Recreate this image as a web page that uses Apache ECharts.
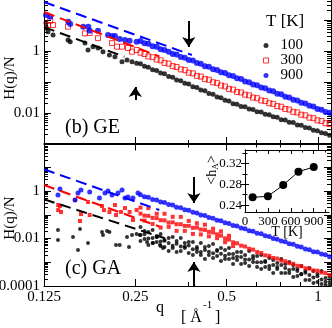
<!DOCTYPE html>
<html>
<head>
<meta charset="utf-8">
<script src="https://cdn.jsdelivr.net/npm/echarts@6/dist/echarts.min.js"></script>
<style>
  html, body { margin: 0; padding: 0; background: #fff; }
  #container { width: 332px; height: 328px; }
</style>
</head>
<body>
<div id="container"></div>
<script>
var FONT = '"Liberation Serif", "DejaVu Serif", serif';

// q axis (shared by both panels), log base 2
var qMin = 0.125, qMax = 1.104;
var xLabels = [0.125, 0.25, 0.5, 1];
var xMinor = [0.375, 0.625, 0.75, 0.875];

// H(q)/N axes
var yLabelsGE = [0.01, 1];
var yMajorGE = [0.001, 0.01, 0.1, 1, 10];
var yMinorGE = [0.002, 0.003, 0.004, 0.005, 0.006, 0.007, 0.008, 0.009,
  0.02, 0.03, 0.04, 0.05, 0.06, 0.07, 0.08, 0.09,
  0.2, 0.3, 0.4, 0.5, 0.6, 0.7, 0.8, 0.9,
  2, 3, 4, 5, 6, 7, 8, 9, 20, 30, 40];
var yLabelsGA = [0.0001, 0.01, 1];
var yMajorGA = [0.0001, 0.001, 0.01, 0.1, 1, 10, 100];
var yMinorGA = [0.0002, 0.0003, 0.0004, 0.0005, 0.0006, 0.0007, 0.0008, 0.0009,
  0.002, 0.003, 0.004, 0.005, 0.006, 0.007, 0.008, 0.009,
  0.02, 0.03, 0.04, 0.05, 0.06, 0.07, 0.08, 0.09,
  0.2, 0.3, 0.4, 0.5, 0.6, 0.7, 0.8, 0.9,
  2, 3, 4, 5, 6, 7, 8, 9, 20, 30, 40, 50, 60, 70, 80, 90];

// dense q grid (large q), shared by all series
var qDense = [0.26, 0.268, 0.276, 0.285, 0.294, 0.303, 0.312, 0.322, 0.332, 0.342,
  0.353, 0.364, 0.375, 0.387, 0.399, 0.411, 0.424, 0.437, 0.451, 0.465,
  0.479, 0.494, 0.509, 0.525, 0.541, 0.558, 0.575, 0.593, 0.611, 0.630,
  0.650, 0.670, 0.691, 0.712, 0.734, 0.757, 0.780, 0.804, 0.829, 0.855,
  0.881, 0.909, 0.937, 0.966, 0.996, 1.027, 1.059, 1.092];

// (b) GE : sparse small-q points
var qBlackGE0 = [0.1269, 0.1274, 0.1289, 0.1339, 0.150, 0.1525, 0.1706, 0.1746, 0.1813, 0.1883, 0.1956, 0.2054, 0.2142, 0.226, 0.2347, 0.2438, 0.2525];
var hBlackGE0 = [8.0, 5.5, 4.2, 3.3, 2.26, 2.0, 1.8, 1.08, 1.38, 1.25, 0.95, 0.74, 0.655, 0.45, 0.51, 0.45, 0.40];
var qRedGE0 = [0.1289, 0.131, 0.1339, 0.150, 0.1706, 0.1768, 0.1883, 0.2095, 0.2175, 0.226, 0.2365, 0.2438, 0.2525];
var hRedGE0 = [6.9, 9.5, 6.9, 6.1, 3.7, 3.8, 2.6, 1.8, 1.38, 1.38, 1.25, 0.95, 1.08];
var qBlueGE0 = [0.127, 0.131, 0.1503, 0.1525, 0.1684, 0.175, 0.1768, 0.1883, 0.2032, 0.2095, 0.2142, 0.2221, 0.2311, 0.2394, 0.2525];
var hBlueGE0 = [14.5, 12.8, 8.8, 7.4, 6.1, 6.1, 4.5, 4.5, 3.3, 3.05, 3.05, 2.45, 2.25, 2.15, 2.0];

// (b) GE : dense band, one value per qDense
var hBlackGE = [0.39, 0.32, 0.30, 0.25, 0.235, 0.195, 0.183, 0.150, 0.142, 0.117,
  0.110, 0.091, 0.086, 0.070, 0.067, 0.055, 0.052, 0.0425, 0.040, 0.033,
  0.0312, 0.0257, 0.0242, 0.0199, 0.0193, 0.0163, 0.0158, 0.0134, 0.0130, 0.0110,
  0.0107, 0.0091, 0.0088, 0.0075, 0.0073, 0.0061, 0.0060, 0.0050, 0.0049, 0.0041,
  0.0040, 0.0034, 0.0033, 0.0028, 0.0027, 0.0023, 0.0022, 0.0019];
var hRedGE = [0.88, 0.80, 0.67, 0.63, 0.53, 0.50, 0.415, 0.39, 0.325, 0.305,
  0.256, 0.241, 0.200, 0.19, 0.158, 0.149, 0.124, 0.118, 0.098, 0.092,
  0.077, 0.072, 0.060, 0.057, 0.048, 0.046, 0.039, 0.037, 0.0315, 0.030,
  0.0254, 0.0243, 0.0206, 0.0197, 0.0167, 0.0159, 0.0135, 0.0129, 0.0109, 0.0104,
  0.0088, 0.0084, 0.0071, 0.0068, 0.0058, 0.0055, 0.0047, 0.0044];
var hBlueGE = [2.1, 1.78, 1.70, 1.42, 1.36, 1.13, 1.08, 0.95, 0.80, 0.77,
  0.64, 0.61, 0.51, 0.49, 0.41, 0.385, 0.325, 0.31, 0.26, 0.245,
  0.207, 0.195, 0.165, 0.156, 0.131, 0.124, 0.104, 0.099, 0.083, 0.079,
  0.066, 0.063, 0.053, 0.050, 0.042, 0.040, 0.0335, 0.0318, 0.0267, 0.0252,
  0.0213, 0.0201, 0.0170, 0.0161, 0.0135, 0.0128, 0.0108, 0.0101];

// (c) GA : sparse small-q points
var qBlackGA0 = [0.139, 0.139, 0.1558, 0.1618, 0.1643, 0.1746, 0.1941, 0.1956, 0.2017, 0.2054, 0.2159, 0.2221, 0.2347, 0.2383, 0.2438, 0.2525, 0.2588, 0.2732, 0.2859, 0.2946, 0.3015, 0.3084];
var hBlackGA0 = [0.0228, 0.0087, 0.0116, 0.0033, 0.0251, 0.0065, 0.0188, 0.0140, 0.0207, 0.0188, 0.0053, 0.0053, 0.0116, 0.0044, 0.0140, 0.0155, 0.0140, 0.0071, 0.0065, 0.0116, 0.0053, 0.0040];
var qRedGA0 = [0.1392, 0.1392, 0.1411, 0.1423, 0.1582, 0.1643, 0.1655, 0.1746, 0.1768, 0.1941, 0.1971, 0.2054, 0.2142, 0.2159, 0.2243, 0.2311, 0.2394, 0.2456, 0.2525];
var hRedGA0 = [0.257, 0.158, 0.233, 0.131, 0.418, 0.0546, 0.107, 0.344, 0.0975, 0.233, 0.158, 0.131, 0.257, 0.0975, 0.131, 0.192, 0.131, 0.0601, 0.158];
var qBlueGA0 = [0.139, 0.1411, 0.1582, 0.1618, 0.1655, 0.1768, 0.1904, 0.1986, 0.2032, 0.2095, 0.2192, 0.226, 0.2311, 0.2365, 0.2456, 0.2551];
var hBlueGA0 = [0.68, 1.21, 0.42, 0.82, 1.10, 0.91, 0.51, 0.82, 1.0, 0.68, 0.82, 1.10, 0.51, 0.56, 0.51, 0.82];

// (c) GA : dense band (black is a wide cloud: upper, middle, lower rows)
var hBlackGAhi = [0.0305, 0.0207, 0.0188, 0.0228, 0.0127, 0.0155, 0.00863, 0.0105, 0.0116, 0.00783,
  0.0105, 0.00645, 0.00711, 0.00711, 0.00437, 0.00645, 0.00437, 0.00482, 0.00585, 0.00327,
  0.00397, 0.00327, 0.00397, 0.00222, 0.00269, 0.00269, 0.00201, 0.00297, 0.00183, 0.00183,
  0.00201, 0.00112, 0.00150, 0.00124, 0.000926, 0.00136, 0.000840, 0.00102, 0.000762, 0.000517,
  0.000692, 0.000426, 0.000570, 0.000426, 0.000318, 0.000426, 0.000216, 0.000238];
var hBlackGAmid = [0.0140, 0.0150, 0.0099, 0.0105, 0.0116, 0.0075, 0.0081, 0.00645, 0.0049, 0.0060,
  0.0046, 0.0046, 0.0051, 0.0035, 0.0036, 0.0027, 0.0033, 0.0028, 0.0024, 0.0030,
  0.0023, 0.0019, 0.0022, 0.0015, 0.0017, 0.00168, 0.0013, 0.00129, 0.00145, 0.00099,
  0.0010, 0.00102, 0.00069, 0.00076, 0.00063, 0.00076, 0.00057, 0.00047, 0.00052, 0.00043,
  0.00031, 0.00036, 0.00029, 0.00023, 0.00026, 0.00019, 0.00015, 0.000146];
var hBlackGAlo = [0.00783, 0.00951, 0.00531, 0.00645, 0.00711, 0.00482, 0.00437, 0.00297, 0.00397, 0.00269,
  0.00297, 0.00397, 0.00244, 0.00201, 0.00269, 0.00201, 0.00136, 0.00201, 0.00150, 0.00183,
  0.00112, 0.00136, 0.00136, 0.000840, 0.00124, 0.000840, 0.000926, 0.000692, 0.00102, 0.000628,
  0.000517, 0.000628, 0.000517, 0.000351, 0.000517, 0.000351, 0.000351, 0.000351, 0.000238, 0.000262,
  0.000318, 0.000178, 0.000178, 0.000133, 0.000146, 0.000120, 0.000109, 0.000109];
var hRedGA = [0.112, 0.092, 0.090, 0.074, 0.072, 0.059, 0.058, 0.047, 0.048, 0.040,
  0.040, 0.034, 0.034, 0.028, 0.029, 0.024, 0.023, 0.019, 0.018, 0.015,
  0.0132, 0.0101, 0.0090, 0.0069, 0.0063, 0.0050, 0.0046, 0.0037, 0.0034, 0.0027,
  0.00245, 0.00195, 0.00185, 0.00152, 0.00143, 0.00117, 0.00110, 0.00091, 0.00086, 0.00071,
  0.00068, 0.00056, 0.00054, 0.00045, 0.00044, 0.00037, 0.00035, 0.00029];
// scatter of the red points around the band, first 24 q of qDense
var hRedGAspread = [0.20, 0.057, 0.19, 0.041, 0.11, 0.029, 0.11, 0.031, 0.082, 0.021,
  0.081, 0.021, 0.055, 0.0156, 0.044, 0.0148, 0.038, 0.0123, 0.026, 0.0103,
  0.020, 0.0070, 0.013, 0.0048];
var hBlueGA = [0.70, 0.57, 0.55, 0.44, 0.42, 0.345, 0.33, 0.268, 0.255, 0.208,
  0.197, 0.161, 0.153, 0.126, 0.119, 0.097, 0.092, 0.0757, 0.0715, 0.0588,
  0.0555, 0.0456, 0.0431, 0.0354, 0.0334, 0.0275, 0.0260, 0.0214, 0.0201, 0.0166,
  0.0157, 0.0129, 0.0122, 0.0100, 0.0094, 0.0078, 0.0073, 0.0060, 0.0057, 0.0047,
  0.0044, 0.0036, 0.0034, 0.0028, 0.0027, 0.0022, 0.00205, 0.0017];

// dashed small-q fits: [q, H] end points
var fitBlackGE = [[0.125, 5.9], [0.23, 0.655]];
var fitRedGE = [[0.125, 18.1], [0.30, 0.67]];
var fitBlueGE = [[0.125, 38], [0.384, 0.74]];
var fitBlackGA = [[0.125, 0.447], [0.313, 0.0102]];
var fitRedGA = [[0.125, 1.78], [0.30, 0.032]];
var fitBlueGA = [[0.125, 8.2], [0.30, 0.158]];

// arrows: [q, from, to]
var arrowsGE = [[0.375, 9.3, 1.35], [0.25, 0.0262, 0.069]];
var arrowsGA = [[0.39, 3.9, 0.31], [0.39, 0.0001, 0.00102]];

// inset <h_A> vs T
var insetT = [100, 300, 500, 700, 900];
var insetH = [0.255, 0.257, 0.2785, 0.304, 0.313];
var insetXLabels = [0, 300, 600, 900];
var insetXMinor = [150, 450, 750, 1050];
var insetYLabels = [0.24, 0.28, 0.32];
var insetYMinor = [0.26, 0.30, 0.34];

var legendNames = ['100', '300', '900'];

var dom = document.getElementById('container');
var myChart = echarts.init(dom, null, { renderer: 'canvas' });

function pairs(qs, hs) {
  return hs.map(function (h, i) { return [qs[i], h]; });
}

var black = '#000';
var lineSt = { color: black, width: 1 };

function xAx(grid, pos, ticks, len, line, labels) {
  return {
    gridIndex: grid, type: 'log', logBase: 2, min: qMin, max: qMax, position: pos,
    axisLine: { show: line, lineStyle: lineSt },
    axisTick: { show: true, inside: true, length: len, customValues: ticks, lineStyle: lineSt },
    axisLabel: labels ? {
      show: true, customValues: labels, margin: 4, color: black, fontSize: 15, fontFamily: FONT,
      formatter: function (v) { return String(v); }
    } : { show: false },
    splitLine: { show: false }
  };
}

function yAx(grid, pos, min, max, ticks, len, line, labels) {
  return {
    gridIndex: grid, type: 'log', logBase: 10, min: min, max: max, position: pos,
    axisLine: { show: line, lineStyle: lineSt },
    axisTick: { show: true, inside: true, length: len, customValues: ticks, lineStyle: lineSt },
    axisLabel: labels ? {
      show: true, customValues: labels, margin: 4, color: black, fontSize: 15, fontFamily: FONT,
      formatter: function (v) { return String(v); }
    } : { show: false },
    splitLine: { show: false }
  };
}

function vAx(grid, pos, min, max, ticks, len, line, labels, fmt) {
  return {
    gridIndex: grid, type: 'value', min: min, max: max, position: pos,
    axisLine: { show: line, lineStyle: lineSt },
    axisTick: { show: true, inside: true, length: len, customValues: ticks, lineStyle: lineSt },
    axisLabel: labels ? {
      show: true, customValues: labels, margin: 3, color: black, fontSize: 13, fontFamily: FONT,
      formatter: fmt
    } : { show: false },
    splitLine: { show: false }
  };
}

function dots(name, xi, yi, data, symbol, size, color, hollow) {
  return {
    name: name, type: 'scatter', xAxisIndex: xi, yAxisIndex: yi,
    symbol: symbol, symbolSize: size, data: data, silent: true,
    itemStyle: hollow ? { color: 'rgba(0,0,0,0)', borderColor: color, borderWidth: 1 } : { color: color }
  };
}

function fit(xi, yi, data, color, arrows) {
  var s = {
    type: 'line', xAxisIndex: xi, yAxisIndex: yi, data: data, symbol: 'none', silent: true,
    lineStyle: { color: color, width: 2, type: [11, 6] }
  };
  if (arrows) {
    s.markLine = {
      silent: true, symbol: ['none', 'arrow'], symbolSize: 10, animation: false,
      label: { show: false },
      lineStyle: { color: black, width: 2, type: 'solid' },
      data: arrows.map(function (a) { return [{ coord: [a[0], a[1]] }, { coord: [a[0], a[2]] }]; })
    };
  }
  return s;
}

var option = {
  animation: false,
  backgroundColor: '#fff',
  textStyle: { fontFamily: FONT },
  grid: [
    { left: 44, top: 0, width: 287, height: 144, outerBoundsMode: 'none' },
    { left: 44, top: 143.5, width: 287, height: 142.5, outerBoundsMode: 'none' },
    { left: 245, top: 150, width: 84, height: 62, outerBoundsMode: 'none' }
  ],
  legend: {
    orient: 'vertical', left: 258, top: 33, itemGap: 0, itemWidth: 5, itemHeight: 5,
    selectedMode: false,
    data: [
      { name: legendNames[0], icon: 'circle' },
      { name: legendNames[1], icon: 'rect', itemStyle: { color: 'rgba(0,0,0,0)', borderColor: '#ff0000', borderWidth: 1 } },
      { name: legendNames[2], icon: 'circle' }
    ],
    textStyle: { fontSize: 15, fontFamily: FONT, color: black, lineHeight: 13.5, padding: [0, 0, 0, 7] }
  },
  xAxis: [
    xAx(0, 'bottom', xLabels, 7, true, null),
    xAx(0, 'bottom', xMinor, 4, false, null),
    xAx(1, 'bottom', xLabels, 7, true, xLabels),
    xAx(1, 'bottom', xMinor, 4, false, null),
    xAx(1, 'top', xLabels, 7, true, null),
    xAx(1, 'top', xMinor, 4, false, null),
    vAx(2, 'bottom', 0, 1100, insetXLabels, 4, true, insetXLabels, function (v) { return String(v); }),
    vAx(2, 'bottom', 0, 1100, insetXMinor, 2.5, false, null),
    vAx(2, 'top', 0, 1100, insetXLabels, 4, true, null),
    vAx(2, 'top', 0, 1100, insetXMinor, 2.5, false, null)
  ],
  yAxis: [
    yAx(0, 'left', 0.001, 44.2, yMajorGE, 7, true, yLabelsGE),
    yAx(0, 'left', 0.001, 44.2, yMinorGE, 4, false, null),
    yAx(0, 'right', 0.001, 44.2, yMajorGE, 7, true, null),
    yAx(0, 'right', 0.001, 44.2, yMinorGE, 4, false, null),
    yAx(1, 'left', 0.0001, 100, yMajorGA, 7, true, yLabelsGA),
    yAx(1, 'left', 0.0001, 100, yMinorGA, 4, false, null),
    yAx(1, 'right', 0.0001, 100, yMajorGA, 7, true, null),
    yAx(1, 'right', 0.0001, 100, yMinorGA, 4, false, null),
    vAx(2, 'left', 0.227, 0.3455, insetYLabels, 4, true, insetYLabels, function (v) { return v.toFixed(2); }),
    vAx(2, 'left', 0.227, 0.3455, insetYMinor, 2.5, false, null),
    vAx(2, 'right', 0.227, 0.3455, insetYLabels, 4, true, null),
    vAx(2, 'right', 0.227, 0.3455, insetYMinor, 2.5, false, null)
  ],
  series: [
    fit(0, 0, fitBlackGE, black),
    fit(0, 0, fitRedGE, '#ff0000'),
    fit(0, 0, fitBlueGE, '#0000ff', arrowsGE),
    dots(legendNames[0], 0, 0, pairs(qBlackGE0, hBlackGE0).concat(pairs(qDense, hBlackGE)), 'circle', 5, black),
    dots(legendNames[1], 0, 0, pairs(qRedGE0, hRedGE0).concat(pairs(qDense, hRedGE)), 'rect', 5, '#ff0000', true),
    dots(legendNames[2], 0, 0, pairs(qBlueGE0, hBlueGE0).concat(pairs(qDense, hBlueGE)), 'circle', 6, '#0000ff'),

    fit(2, 4, fitBlackGA, black),
    fit(2, 4, fitRedGA, '#ff0000'),
    fit(2, 4, fitBlueGA, '#0000ff', arrowsGA),
    dots('100 GA', 2, 4, pairs(qBlackGA0, hBlackGA0)
      .concat(pairs(qDense, hBlackGAhi), pairs(qDense, hBlackGAmid), pairs(qDense, hBlackGAlo)), 'circle', 4, black),
    dots('300 GA', 2, 4, pairs(qRedGA0, hRedGA0)
      .concat(pairs(qDense, hRedGA), pairs(qDense, hRedGAspread)), 'rect', 4, '#ff0000'),
    dots('900 GA', 2, 4, pairs(qBlueGA0, hBlueGA0).concat(pairs(qDense, hBlueGA)), 'circle', 5, '#0000ff'),

    {
      type: 'line', xAxisIndex: 6, yAxisIndex: 8, data: pairs(insetT, insetH), silent: true,
      symbol: 'circle', symbolSize: 8, showSymbol: true,
      lineStyle: { color: black, width: 1 }, itemStyle: { color: black }
    }
  ],
  graphic: [
    { type: 'text', x: 266, y: 22, silent: true,
      style: { text: 'T [K]', fontSize: 17, fontFamily: FONT, fill: black, align: 'left', verticalAlign: 'middle' } },
    { type: 'text', x: 65, y: 128, silent: true,
      style: { text: '(b) GE', fontSize: 20, fontFamily: FONT, fill: black, align: 'left', verticalAlign: 'middle' } },
    { type: 'text', x: 65, y: 269, silent: true,
      style: { text: '(c) GA', fontSize: 20, fontFamily: FONT, fill: black, align: 'left', verticalAlign: 'middle' } },
    { type: 'text', x: 10, y: 78, rotation: Math.PI / 2, silent: true,
      style: { text: 'H(q)/N', fontSize: 15, fontFamily: FONT, fill: black, align: 'center', verticalAlign: 'middle' } },
    { type: 'text', x: 10, y: 218, rotation: Math.PI / 2, silent: true,
      style: { text: 'H(q)/N', fontSize: 15, fontFamily: FONT, fill: black, align: 'center', verticalAlign: 'middle' } },
    { type: 'text', x: 156, y: 308, silent: true,
      style: { text: 'q', fontSize: 16, fontFamily: FONT, fill: black, align: 'left', verticalAlign: 'middle' } },
    { type: 'text', x: 181, y: 318, silent: true,
      style: { text: '[ Å', fontSize: 16, fontFamily: FONT, fill: black, align: 'left', verticalAlign: 'middle' } },
    { type: 'text', x: 203, y: 305, silent: true,
      style: { text: '-1', fontSize: 11, fontFamily: FONT, fill: black, align: 'left', verticalAlign: 'middle' } },
    { type: 'text', x: 215, y: 318, silent: true,
      style: { text: ']', fontSize: 16, fontFamily: FONT, fill: black, align: 'left', verticalAlign: 'middle' } },
    { type: 'text', x: 287, y: 232, silent: true,
      style: { text: 'T [K]', fontSize: 14, fontFamily: FONT, fill: black, align: 'center', verticalAlign: 'middle' } },
    { type: 'text', x: 212, y: 170, rotation: Math.PI / 2, silent: true,
      style: { text: '<h{s|A}>', fontSize: 14, fontFamily: FONT, fill: black, align: 'center', verticalAlign: 'middle',
        rich: { s: { fontSize: 9, fontFamily: FONT, fill: black, padding: [8, 0, 0, 0] } } } }
  ]
};

if (option && typeof option === 'object') {
  myChart.setOption(option);
}
</script>
</body>
</html>
